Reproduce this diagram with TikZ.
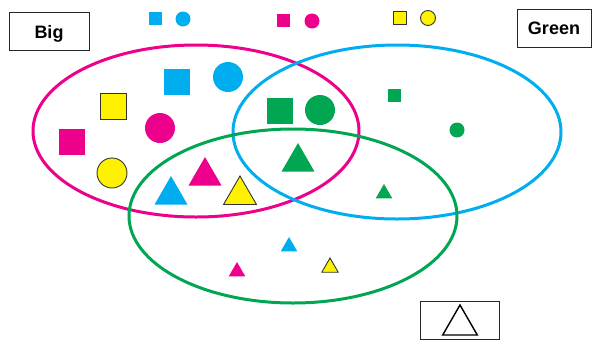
\documentclass[tikz,border=0pt]{standalone}
\usepackage{fontspec}
\setmainfont{Liberation Sans}
\usetikzlibrary{shapes.geometric}
\definecolor{rose}{RGB}{236,0,140}
\definecolor{bleu}{RGB}{0,174,239}
\definecolor{vert}{RGB}{0,166,81}
\definecolor{jaune}{RGB}{255,242,0}
\begin{document}
\begin{tikzpicture}[x=1pt,y=-1pt]
% Styles
\tikzstyle{ensemble}=[line width=3pt]
\tikzstyle{cadre}=[draw=black!85,line width=0.9pt,inner sep=0pt,minimum height=38pt,text height=13pt,text depth=0pt,font=\fontsize{18}{20}\selectfont\bfseries]
\tikzstyle{contour}=[draw=black!80,line width=0.9pt]
\tikzstyle{carre}=[rectangle,inner sep=0pt,minimum size=26pt]
\tikzstyle{petitcarre}=[rectangle,inner sep=0pt,minimum size=13pt]
\tikzstyle{rond}=[circle,inner sep=0pt,minimum size=30pt]
\tikzstyle{petitrond}=[circle,inner sep=0pt,minimum size=15pt]
\tikzstyle{tri}=[regular polygon,regular polygon sides=3,inner sep=0pt,minimum size=38pt]
\tikzstyle{petittri}=[regular polygon,regular polygon sides=3,inner sep=0pt,minimum size=19pt]
\useasboundingbox (0,0) rectangle (592,341);
% Ensembles
\draw[ensemble,rose] (196,131) ellipse [x radius=163pt,y radius=86pt];
\draw[ensemble,bleu] (397,132) ellipse [x radius=164pt,y radius=87pt];
\draw[ensemble,vert] (293,216) ellipse [x radius=164pt,y radius=87pt];
% Cadres
\node[cadre,minimum width=80pt] (Big) at (49,31.5) {Big};
\node[cadre,minimum width=74pt] (Green) at (554,28) {Green};
\node[cadre,minimum width=79pt] (Tri) at (459.5,320) {};
\node[tri,contour,line width=1.4pt,draw=black,fill=white,minimum size=40pt] (TriVide) at (460,325) {};
% Ligne du haut
\node[petitcarre,fill=bleu] (Cb) at (155.5,18.5) {};
\node[petitrond,fill=bleu] (Rb) at (183,19) {};
\node[petitcarre,fill=rose] (Cr) at (283.5,20) {};
\node[petitrond,fill=rose] (Rr) at (312,21) {};
\node[petitcarre,contour,fill=jaune] (Cj) at (399.5,17.5) {};
\node[petitrond,contour,fill=jaune] (Rj) at (428,18) {};
% Grandes formes
\node[carre,fill=bleu] (GCb) at (177,82) {};
\node[rond,fill=bleu] (GRb) at (228,77) {};
\node[carre,contour,fill=jaune] (GCj) at (113,106) {};
\node[carre,fill=rose] (GCr) at (72,142) {};
\node[rond,fill=rose] (GRr) at (160,128) {};
\node[rond,contour,fill=jaune] (GRj) at (112,173) {};
\node[carre,fill=vert] (GCv) at (280,111) {};
\node[rond,fill=vert] (GRv) at (320,110) {};
\node[tri,fill=bleu] (GTb) at (171,195) {};
\node[tri,fill=rose] (GTr) at (205,176) {};
\node[tri,contour,fill=jaune] (GTj) at (240,195) {};
\node[tri,fill=vert] (GTv) at (298,162) {};
% Petites formes
\node[petitcarre,fill=vert] (PCv) at (394.5,95.5) {};
\node[petitrond,fill=vert] (PRv) at (457,130) {};
\node[petittri,fill=vert] (PTv) at (384,193.5) {};
\node[petittri,fill=bleu] (PTb) at (289,246.5) {};
\node[petittri,fill=rose] (PTr) at (237,271.5) {};
\node[petittri,contour,fill=jaune] (PTj) at (330,267.5) {};
\end{tikzpicture}
\end{document}
